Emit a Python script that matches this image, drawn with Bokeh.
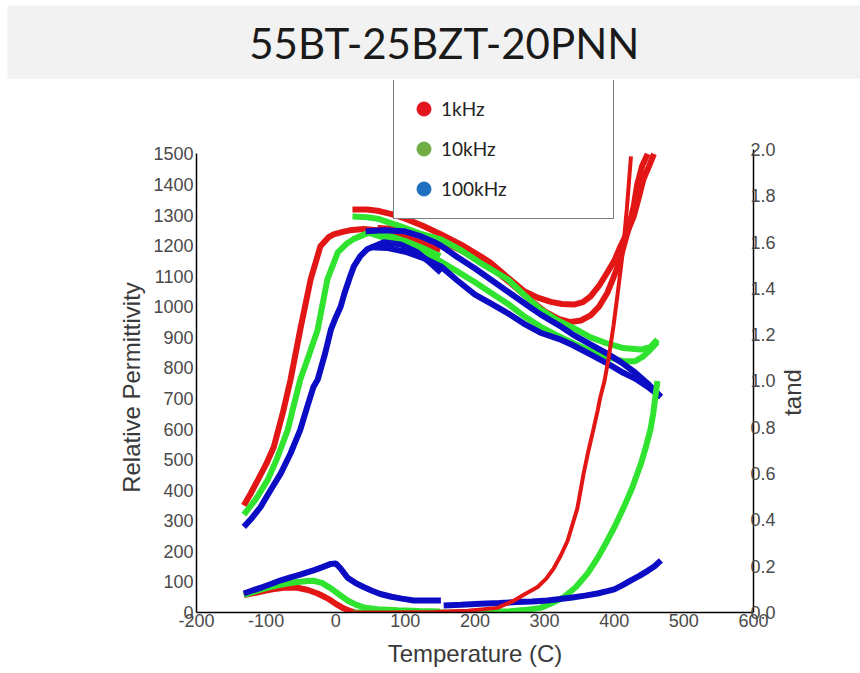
import math
from bokeh.plotting import figure
from bokeh.models import Range1d, LinearAxis, FixedTicker, Legend, LegendItem, PrintfTickFormatter
from bokeh.layouts import column, row
from bokeh.embed import file_html
from bokeh.resources import INLINE
from bokeh.core.properties import value

# ---------------- data ----------------
title_text = "55BT-25BZT-20PNN"
x_label = "Temperature (C)"
y_label = "Relative Permittivity"
y2_label = "tand"
series_names = ["1kHz", "10kHz", "100kHz"]
x_ticks = [-200, -100, 0, 100, 200, 300, 400, 500, 600]
perm_ticks = list(range(0, 1501, 100))
tand_ticks = [0.0, 0.2, 0.4, 0.6, 0.8, 1.0, 1.2, 1.4, 1.6, 1.8, 2.0]

# 1 kHz relative permittivity
t_1k_low = [-132, -122, -112, -100, -89, -76, -65, -51, -36, -22, -10, -3, 10, 20, 40, 60, 80, 100, 125, 150]
e_1k_low = [350, 390, 433, 485, 541, 653, 761, 925, 1090, 1198, 1228, 1237, 1245, 1250, 1254, 1250, 1242, 1228, 1208, 1185]
t_1k_heat = [24, 45, 60, 80, 100, 125, 150, 180, 208, 222, 245, 270, 290, 309, 325, 342, 355, 366, 378, 390, 400, 409, 419, 428, 435, 442, 450, 457]
e_1k_heat = [1318, 1318, 1314, 1303, 1288, 1265, 1238, 1203, 1165, 1145, 1100, 1052, 1030, 1016, 1009, 1007, 1015, 1034, 1068, 1112, 1150, 1198, 1245, 1296, 1355, 1418, 1460, 1500]
t_1k_cool = [448, 440, 433, 428, 419, 412, 405, 398, 390, 378, 366, 352, 337, 320, 300, 275, 250, 225, 200, 175, 150, 125, 100, 80, 60]
e_1k_cool = [1500, 1460, 1400, 1329, 1244, 1185, 1132, 1090, 1045, 1000, 972, 955, 950, 960, 985, 1030, 1080, 1125, 1160, 1190, 1215, 1235, 1250, 1255, 1258]

# 10 kHz relative permittivity
t_10k_low = [-132, -115, -98, -85, -69, -60, -51, -38, -26, -12, 3, 15, 26, 45, 60, 79, 100, 125, 150]
e_10k_low = [320, 370, 433, 500, 597, 680, 761, 845, 925, 1090, 1178, 1205, 1222, 1240, 1240, 1230, 1215, 1192, 1165]
t_10k_heat = [24, 45, 60, 93, 120, 151, 180, 210, 247, 270, 294, 319, 342, 366, 390, 413, 438, 452, 462]
e_10k_heat = [1295, 1293, 1288, 1263, 1240, 1220, 1185, 1140, 1090, 1040, 992, 955, 930, 900, 880, 865, 860, 868, 893]
t_10k_cool = [462, 450, 440, 430, 413, 390, 366, 342, 319, 294, 270, 247, 220, 200, 175, 151, 125, 100, 70, 45]
e_10k_cool = [885, 855, 835, 822, 822, 835, 855, 880, 905, 935, 970, 1010, 1050, 1080, 1115, 1148, 1175, 1200, 1225, 1244]

# 100 kHz relative permittivity
t_100k_low = [-132, -120, -108, -95, -79, -65, -51, -40, -32, -26, -15, -7, 0, 7, 12, 20, 26, 35, 45, 69, 93, 117, 135, 151]
e_100k_low = [280, 310, 345, 395, 455, 520, 597, 680, 738, 761, 850, 925, 965, 1000, 1040, 1095, 1132, 1165, 1188, 1211, 1204, 1178, 1145, 1112]
t_100k_heat = [43, 70, 98, 120, 141, 151, 175, 200, 225, 250, 275, 294, 320, 340, 365, 390, 410, 430, 450, 467]
e_100k_heat = [1247, 1250, 1247, 1232, 1212, 1200, 1162, 1125, 1085, 1045, 1005, 975, 940, 910, 878, 847, 818, 785, 745, 705]
t_100k_cool = [467, 450, 430, 413, 390, 365, 340, 320, 294, 270, 250, 225, 200, 175, 151, 125, 100, 75, 50]
e_100k_cool = [705, 735, 765, 784, 815, 845, 875, 895, 915, 945, 975, 1008, 1040, 1085, 1132, 1160, 1180, 1192, 1195]

# loss tangent (right axis)
tt_1k_low = [-132, -115, -100, -85, -75, -65, -55, -40, -26, -15, -7, 2, 11, 20, 28]
d_1k_low = [0.075, 0.085, 0.095, 0.103, 0.107, 0.108, 0.107, 0.097, 0.082, 0.066, 0.052, 0.034, 0.018, 0.007, 0.0]
tt_10k_low = [-132, -115, -100, -85, -70, -55, -40, -32, -20, -7, 5, 17, 28, 40, 60, 89, 120, 150]
d_10k_low = [0.076, 0.092, 0.105, 0.116, 0.125, 0.132, 0.136, 0.137, 0.128, 0.104, 0.078, 0.052, 0.035, 0.022, 0.014, 0.01, 0.006, 0.004]
tt_100k_low = [-132, -118, -105, -92, -79, -65, -50, -32, -20, -7, 0, 7, 12, 17, 28, 40, 52, 64, 80, 95, 112, 130, 151]
d_100k_low = [0.082, 0.097, 0.11, 0.124, 0.139, 0.152, 0.165, 0.182, 0.195, 0.21, 0.212, 0.19, 0.17, 0.15, 0.128, 0.11, 0.094, 0.08, 0.068, 0.06, 0.052, 0.052, 0.052]

tt_1k_heat = [25, 80, 140, 190, 232, 255, 272, 290, 302, 313, 323, 333, 340, 347, 356, 363, 370, 376, 380, 386, 392, 399, 405, 412, 418, 424]
d_1k_heat = [0.0, 0.0, 0.002, 0.008, 0.02, 0.05, 0.08, 0.11, 0.145, 0.19, 0.245, 0.31, 0.38, 0.45, 0.6, 0.7, 0.79, 0.87, 0.93, 1.0, 1.1, 1.24, 1.38, 1.55, 1.74, 1.97]
tt_10k_heat = [25, 100, 180, 250, 275, 294, 310, 327, 345, 362, 376, 390, 402, 413, 426, 438, 445, 452, 456, 459, 462]
d_10k_heat = [0.0, 0.0, 0.0, 0.005, 0.012, 0.02, 0.04, 0.065, 0.11, 0.17, 0.235, 0.31, 0.38, 0.45, 0.54, 0.64, 0.71, 0.79, 0.86, 0.93, 1.0]
tt_100k_heat = [155, 180, 208, 235, 260, 282, 304, 322, 340, 358, 376, 390, 400, 412, 424, 436, 448, 458, 467]
d_100k_heat = [0.03, 0.033, 0.038, 0.041, 0.045, 0.048, 0.052, 0.058, 0.065, 0.073, 0.082, 0.092, 0.1, 0.118, 0.139, 0.158, 0.18, 0.2, 0.225]

curve_colors = ["#e31616", "#2fe32f", "#0c0cc4"]
legend_colors = ["#e3141e", "#70ad47", "#1f6fbf"]

label_font = "Liberation Sans"
tick_font = "Liberation Sans"
label_color = "#3a3a3a"
tick_color = "#4a4a4a"


def strip(width, height):
    f = figure(width=width, height=height, x_range=Range1d(0, width), y_range=Range1d(0, height),
               toolbar_location=None, output_backend="svg",
               x_axis_location=None, y_axis_location=None,
               min_border_left=0, min_border_top=0, min_border_right=0, min_border_bottom=0)
    f.frame_align = False
    f.grid.visible = False
    f.outline_line_color = None
    f.background_fill_color = "white"
    f.border_fill_color = "white"
    return f


# ---------------- title band ----------------
tf = figure(width=860, height=79, x_range=Range1d(0, 1), y_range=Range1d(0, 1),
            toolbar_location=None, output_backend="svg",
            x_axis_location=None, y_axis_location=None,
            min_border_left=7, min_border_top=5, min_border_right=0, min_border_bottom=0)
tf.frame_align = False
tf.grid.visible = False
tf.outline_line_color = None
tf.background_fill_color = "#f2f2f2"
tf.border_fill_color = "white"
tf.text(x=[0.512], y=[0.5], text=[title_text], text_align="center", text_baseline="middle",
        text_font=value("Lato"), text_font_size="42px", text_color="#1a1a1a")

# ---------------- left axis title strip ----------------
lf = strip(150, 594)
lf.text(x=[131], y=[286], text=[y_label], angle=math.pi / 2, text_align="center",
        text_baseline="middle", text_font=value(label_font), text_font_size="24px",
        text_color=label_color)

# ---------------- main chart ----------------
p = figure(width=630, height=594, x_range=Range1d(-200, 600), y_range=Range1d(0, 1740),
           toolbar_location=None, output_backend="svg",
           min_border_left=46, min_border_right=27, min_border_top=1, min_border_bottom=61)
p.frame_align = False
p.extra_y_ranges = {"tand": Range1d(0, 2.298)}
p.grid.visible = False
p.outline_line_color = None
p.background_fill_color = "white"
p.border_fill_color = "white"

p.xaxis.ticker = FixedTicker(ticks=x_ticks)
p.xaxis.formatter = PrintfTickFormatter(format="%d")
p.yaxis.ticker = FixedTicker(ticks=perm_ticks)
p.yaxis.bounds = (0, 1500)
p.xaxis.axis_label = x_label

right = LinearAxis(y_range_name="tand", ticker=FixedTicker(ticks=tand_ticks),
                   formatter=PrintfTickFormatter(format="%.1f"), bounds=(0, 2))
p.add_layout(right, "right")

for ax in [p.xaxis[0], p.yaxis[0], right]:
    ax.axis_line_color = "black"
    ax.axis_line_width = 1.5
    ax.major_tick_line_color = None
    ax.minor_tick_line_color = None
    ax.major_tick_out = 0
    ax.major_tick_in = 0
    ax.major_label_text_font = tick_font
    ax.major_label_text_font_size = "18px"
    ax.major_label_text_color = tick_color
    ax.axis_label_text_font = label_font
    ax.axis_label_text_font_size = "24px"
    ax.axis_label_text_font_style = "normal"
    ax.axis_label_text_color = label_color

p.xaxis.major_label_standoff = 1
p.xaxis.axis_label_standoff = 10
p.yaxis.major_label_standoff = 3
right.major_label_standoff = -3

lw = 6
# permittivity curves
p.line(t_1k_low, e_1k_low, color=curve_colors[0], line_width=lw)
p.line(t_1k_heat, e_1k_heat, color=curve_colors[0], line_width=lw)
p.line(t_1k_cool, e_1k_cool, color=curve_colors[0], line_width=lw)
p.line(t_10k_low, e_10k_low, color=curve_colors[1], line_width=lw)
p.line(t_10k_heat, e_10k_heat, color=curve_colors[1], line_width=lw)
p.line(t_10k_cool, e_10k_cool, color=curve_colors[1], line_width=lw)
p.line(t_100k_low, e_100k_low, color=curve_colors[2], line_width=lw)
p.line(t_100k_heat, e_100k_heat, color=curve_colors[2], line_width=lw)
p.line(t_100k_cool, e_100k_cool, color=curve_colors[2], line_width=lw)

# loss tangent curves
p.line(tt_1k_low, d_1k_low, color=curve_colors[0], line_width=lw, y_range_name="tand")
p.line(tt_10k_low, d_10k_low, color=curve_colors[1], line_width=lw, y_range_name="tand")
p.line(tt_100k_low, d_100k_low, color=curve_colors[2], line_width=lw, y_range_name="tand")
p.line(tt_10k_heat, d_10k_heat, color=curve_colors[1], line_width=lw, y_range_name="tand")
p.line(tt_100k_heat, d_100k_heat, color=curve_colors[2], line_width=lw, y_range_name="tand")
p.line(tt_1k_heat, d_1k_heat, color=curve_colors[0], line_width=4, y_range_name="tand")

# legend (placeholder renderers with no visible point carry the legend colours)
items = []
for name, col in zip(series_names, legend_colors):
    r = p.scatter(x=[float("nan")], y=[float("nan")], marker="circle", size=14,
                  fill_color=col, line_color=col)
    items.append(LegendItem(label=name, renderers=[r]))
legend = Legend(items=items, location=(197, 393), orientation="vertical",
                border_line_color="black", border_line_width=1.2,
                background_fill_color="white", background_fill_alpha=1.0,
                padding=12, spacing=5, glyph_width=35, glyph_height=35,
                label_standoff=0, label_width=160, label_height=20, margin=0,
                label_text_font="Lato", label_text_font_size="19px", label_text_color="#222222")
p.add_layout(legend, "center")

# ---------------- right axis title strip ----------------
rf = strip(80, 594)
rf.text(x=[12], y=[281], text=[y2_label], angle=math.pi / 2, text_align="center",
        text_baseline="middle", text_font=value(label_font), text_font_size="24px",
        text_color=label_color)

layout = column(tf, row(lf, p, rf, spacing=0), spacing=0)
open("out.html", "w").write(file_html(layout, INLINE))
